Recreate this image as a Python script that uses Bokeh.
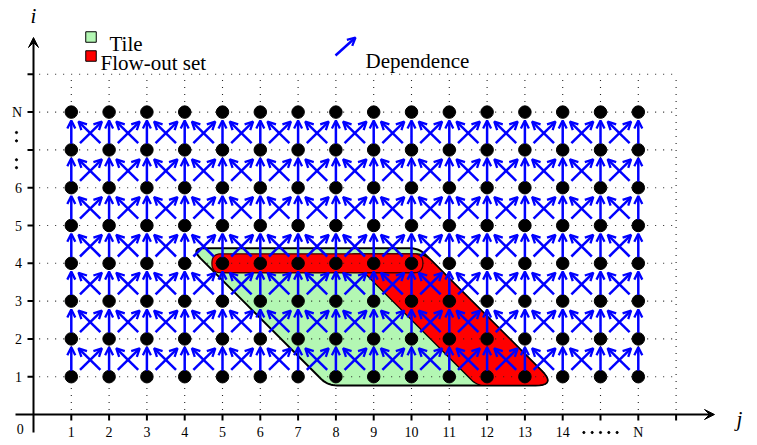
import numpy as np
from bokeh.plotting import figure
from bokeh.models import Range1d, ColumnDataSource, Arrow, OpenHead, VeeHead
from bokeh.core.properties import value
from bokeh.embed import file_html
from bokeh.resources import INLINE

# ---------------- data ----------------
j_values = list(range(1, 17))          # 1 .. 14, (15), N = 16
i_values = list(range(1, 9))           # 1 .. 6, (7), N = 8
j_tick_pos = list(range(1, 18))
j_tick_labels = [str(k) for k in range(1, 15)] + ["", "N", ""]
i_tick_pos = list(range(1, 10))
i_tick_labels = ["1", "2", "3", "4", "5", "6", "", "N", ""]
tile_rows = [1, 2, 3, 4]
tile_first = [8, 7, 6, 5]
tile_last = [13, 12, 11, 10]
flow_out_width = 2                     # last two points of each tile row + whole top row
legend_labels = ["Tile", "Flow-out set", "Dependence"]

# ---------------- geometry ----------------
PX = 37.8
W, H = 757, 445
X0, Y0 = 33.0, 414.0
SERIF = "Liberation Serif"
BLUE = "#0000ff"
GREEN = "#b3f7b3"
RED = "#ff0000"


def dj(px):
    return (px - X0) / PX


def di(py):
    return (Y0 - py) / PX


p = figure(width=W, height=H, output_backend="svg", toolbar_location=None,
           x_range=Range1d(dj(0), dj(W)), y_range=Range1d(di(H), di(0)),
           x_axis_location=None, y_axis_location=None, min_border=0,
           outline_line_color=None, background_fill_color="white")
p.grid.visible = False


def rounded(xs, ys, radii, n=10):
    ox, oy = [], []
    m = len(xs)
    for k in range(m):
        r = radii[k]
        v = np.array([xs[k], ys[k]])
        a = np.array([xs[k - 1], ys[k - 1]])
        b = np.array([xs[(k + 1) % m], ys[(k + 1) % m]])
        d1 = (a - v) / np.linalg.norm(a - v)
        d2 = (b - v) / np.linalg.norm(b - v)
        p1 = v + d1 * r
        p2 = v + d2 * r
        for t in np.linspace(0, 1, n):
            q = (1 - t) ** 2 * p1 + 2 * (1 - t) * t * v + t ** 2 * p2
            ox.append(q[0]); oy.append(q[1])
    return ox, oy


top = max(tile_rows)
bot = min(tile_rows)
left_sum = tile_first[0] + tile_rows[0] - 0.45
right_sum = tile_last[0] + tile_rows[0] + 0.6
band_sum = tile_last[0] - flow_out_width + 1 + tile_rows[0] - 0.5
t_top, t_bot = top + 0.4, bot - 0.23

# tile
tx = [left_sum - t_top, right_sum - t_top, right_sum - t_bot, left_sum - t_bot]
ty = [t_top, t_top, t_bot, t_bot]
rx, ry = rounded(tx, ty, [0.38, 0.25, 0.55, 0.25])
p.patch(rx, ry, fill_color=GREEN, line_color="black", line_width=2)

# flow-out band
b_top = top + 0.25
bx = [band_sum - b_top, right_sum - b_top, right_sum - t_bot, band_sum - t_bot]
by = [b_top, b_top, t_bot, t_bot]
rx, ry = rounded(bx, by, [0.3, 0.25, 0.55, 0.2])
p.patch(rx, ry, fill_color=RED, line_color="black", line_width=1.3)

# flow-out top row bar
row4_first = tile_first[tile_rows.index(top)]
row4_last = tile_last[tile_rows.index(top)]
barx = [row4_first - 0.28, row4_last + 0.3, row4_last + 0.3, row4_first - 0.28]
bary = [top + 0.25, top + 0.25, top - 0.25, top - 0.25]
rx, ry = rounded(barx, bary, [0.24] * 4)
p.patch(rx, ry, fill_color=RED, line_color="#400000", line_width=1.3)

# dotted grid
gmax_j = max(j_tick_pos)
gmax_i = max(i_tick_pos)
p.segment(x0=[0.15] * len(i_tick_pos), x1=[gmax_j] * len(i_tick_pos),
          y0=i_tick_pos, y1=i_tick_pos, line_color="#222222", line_width=1.1,
          line_dash="1 7")
p.segment(x0=j_tick_pos, x1=j_tick_pos, y0=[0.12] * len(j_tick_pos),
          y1=[gmax_i] * len(j_tick_pos), line_color="#222222", line_width=1.1,
          line_dash="1 6")

# points
JJ, II = np.meshgrid(j_values, i_values)
p.scatter(JJ.ravel(), II.ravel(), size=12.5, color="black")

# dependence arrows
xs0, ys0, xs1, ys1 = [], [], [], []
for i in i_values[:-1]:
    for j in j_values:
        xs0.append(j); ys0.append(i + 0.16); xs1.append(j); ys1.append(i + 0.78)
    for j in j_values[:-1]:
        xs0.append(j + 0.23); ys0.append(i + 0.18); xs1.append(j + 0.81); ys1.append(i + 0.75)
        xs0.append(j + 0.77); ys0.append(i + 0.18); xs1.append(j + 0.19); ys1.append(i + 0.75)
src = ColumnDataSource(dict(x0=xs0, y0=ys0, x1=xs1, y1=ys1))
p.add_layout(Arrow(source=src, x_start="x0", y_start="y0", x_end="x1", y_end="y1",
                   line_color=BLUE, line_width=2.5,
                   end=OpenHead(size=8, line_color=BLUE, line_width=2.3)))

# axes
p.add_layout(Arrow(x_start=dj(15), y_start=0, x_end=dj(714), y_end=0, line_color="black",
                   line_width=2, end=VeeHead(size=10, fill_color="black", line_color="black")))
p.add_layout(Arrow(x_start=0, y_start=di(432), x_end=0, y_end=di(37), line_color="black",
                   line_width=2, end=VeeHead(size=10, fill_color="black", line_color="black")))
tl = 6 / PX
p.segment(x0=j_tick_pos, x1=j_tick_pos, y0=[0] * len(j_tick_pos), y1=[-tl] * len(j_tick_pos),
          line_color="black", line_width=2)
p.segment(x0=[-tl] * len(i_tick_pos), x1=[0] * len(i_tick_pos), y0=i_tick_pos, y1=i_tick_pos,
          line_color="black", line_width=2)

p.text(x=j_tick_pos, y=[di(431.5)] * len(j_tick_pos), text=j_tick_labels,
       text_font=value(SERIF), text_font_size="14px", text_align="center",
       text_baseline="middle", text_color="black")
p.text(x=[dj(21.5)] * len(i_tick_pos), y=i_tick_pos, text=i_tick_labels,
       text_font=value(SERIF), text_font_size="14px", text_align="right",
       text_baseline="middle", text_color="black")
p.text(x=[dj(19.7)], y=[di(428)], text=["0"], text_font=value(SERIF),
       text_font_size="14px", text_align="center", text_baseline="middle")
# ellipses for the skipped ticks
skip_j = j_tick_pos[j_tick_labels.index("N") - 1]
skip_i = i_tick_pos[i_tick_labels.index("N") - 1]
p.scatter(x=[skip_j + d for d in (-0.44, -0.22, 0.0, 0.22, 0.44)], y=[di(432)] * 5,
          size=2.2, color="black")
p.scatter(x=[dj(16)] * 4, y=[skip_i + d for d in (0.46, 0.24, -0.26, -0.47)],
          size=2.2, color="black")

# axis names
p.text(x=[dj(33)], y=[di(15)], text=["i"], text_font=value(SERIF), text_font_size="21px",
       text_font_style="italic", text_align="center", text_baseline="alphabetic")
p.text(x=[dj(739)], y=[di(418)], text=["j"], text_font=value(SERIF), text_font_size="21px",
       text_font_style="italic", text_align="center", text_baseline="alphabetic")

# legend
p.scatter(x=[dj(90.5), dj(90.5)], y=[di(36.5), di(55.5)], marker="square", size=10.5,
          fill_color=[GREEN, RED], line_color="black", line_width=1)
p.text(x=[dj(109), dj(100)], y=[di(43.5), di(62)], text=legend_labels[:2],
       text_font=value(SERIF), text_font_size="21px", text_baseline="alphabetic")
p.add_layout(Arrow(x_start=dj(335), y_start=di(55), x_end=dj(355), y_end=di(37),
                   line_color=BLUE, line_width=2.5,
                   end=OpenHead(size=8, line_color=BLUE, line_width=2.3)))
p.text(x=[dj(365)], y=[di(60)], text=legend_labels[2:], text_font=value(SERIF),
       text_font_size="21px", text_baseline="alphabetic")

open("out.html", "w").write(file_html(p, INLINE))
